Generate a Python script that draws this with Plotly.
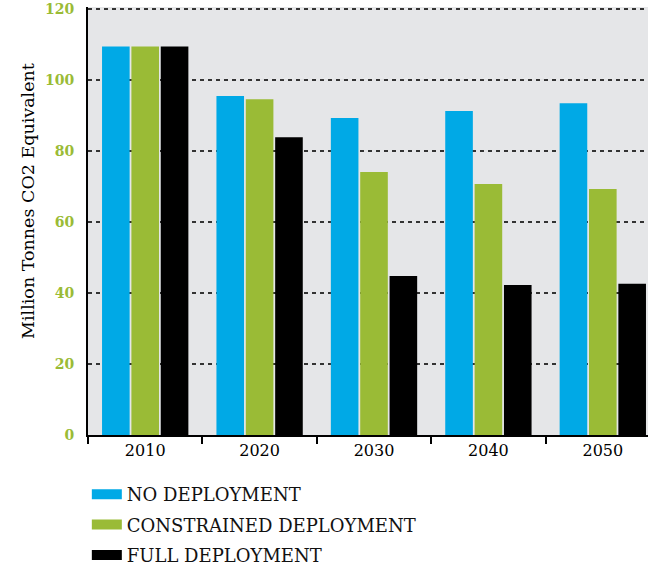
import plotly.graph_objects as go

years = ["2010", "2020", "2030", "2040", "2050"]
no_deployment = [109.5, 95.5, 89.3, 91.3, 93.5]
constrained_deployment = [109.5, 94.6, 74.1, 70.7, 69.3]
full_deployment = [109.5, 83.9, 44.8, 42.3, 42.6]

series = [
    ("NO DEPLOYMENT", no_deployment, "#00A9E6"),
    ("CONSTRAINED DEPLOYMENT", constrained_deployment, "#9ABB36"),
    ("FULL DEPLOYMENT", full_deployment, "#000000"),
]

SERIF = "DejaVu Serif"

fig = go.Figure()
for name, vals, color in series:
    fig.add_trace(go.Bar(x=years, y=vals, name=name, marker_color=color,
                         marker_line_width=0, showlegend=False))
    # wide flat legend swatch, drawn via a line-style legend entry
    fig.add_trace(go.Scatter(x=[None], y=[None], mode="lines", name=name,
                             line=dict(color=color, width=10),
                             legendgroup=name, showlegend=True))

fig.update_layout(
    width=648, height=567,
    paper_bgcolor="white",
    plot_bgcolor="#E5E6E8",
    margin=dict(l=88, r=0, t=7, b=132, autoexpand=False),
    barmode="group",
    bargap=0.23,
    bargroupgap=0.06,
    font=dict(family=SERIF, color="black"),
    legend=dict(
        xref="container", yref="container",
        x=0.134, y=0.1605, xanchor="left", yanchor="top",
        font=dict(family=SERIF, size=18, color="#111"),
        tracegroupgap=4,
        bgcolor="rgba(0,0,0,0)",
    ),
    annotations=[dict(
        text="Million Tonnes CO2 Equivalent",
        xref="paper", yref="paper", x=-0.107, y=0.547,
        xanchor="center", yanchor="middle", textangle=-90,
        showarrow=False, font=dict(family=SERIF, size=17.5, color="black"),
    )],
)

fig.update_xaxes(
    range=[-0.5, 4.395],
    showline=True, linecolor="black", linewidth=2,
    ticks="outside", tickson="boundaries", ticklen=7, tickwidth=2, tickcolor="black",
    tickfont=dict(family=SERIF, size=16, color="black"),
    tickangle=0,
    showgrid=False,
)
# top of range nudged past 120 so the top dashed gridline is drawn
fig.update_yaxes(
    range=[0, 120.6], tickvals=[0, 20, 40, 60, 80, 100, 120],
    showline=True, linecolor="black", linewidth=2,
    showgrid=True, gridcolor="#333333", gridwidth=1.5, griddash="4px,4px",
    zeroline=False,
    ticklabelstandoff=9,
    tickfont=dict(family=SERIF, size=14, color="#9ABB36", weight="bold"),
)

# drop the browser's default body margin so the figure sits at the page corner
fig.write_html("out.html", config={"displayModeBar": False},
               post_script="document.body.style.margin='0';")
